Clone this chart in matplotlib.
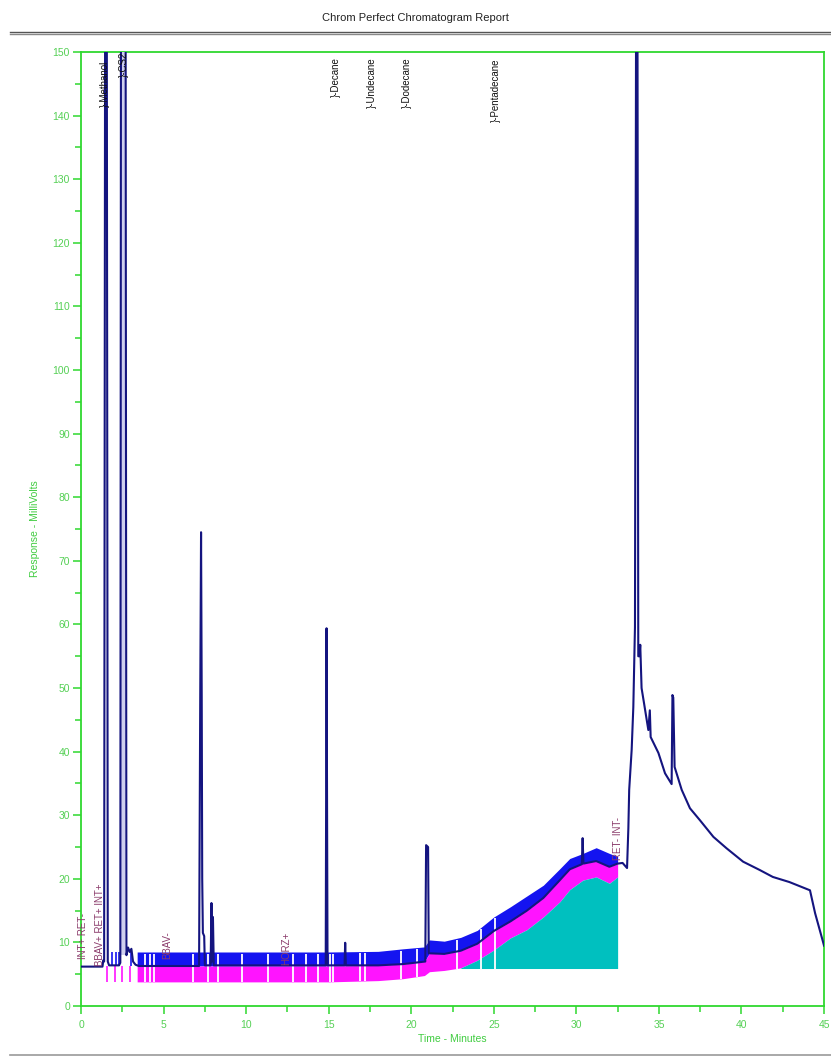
import matplotlib
matplotlib.use("Agg")
import matplotlib.pyplot as plt
import numpy as np
from matplotlib.lines import Line2D
from matplotlib.ticker import MultipleLocator

plt.rcParams['font.family'] = ['Liberation Sans', 'DejaVu Sans']

# chromatogram trace (minutes, millivolts); values above 150 run off the top
trace_t = [0, 1.30, 1.35, 1.40, 1.46, 1.56, 1.62, 1.70, 2.30, 2.38, 2.42, 2.70, 2.75,
           2.85, 2.95, 3.05, 3.15, 3.30, 3.50, 7.15, 7.22, 7.27, 7.31, 7.34, 7.38,
           7.46, 7.50, 7.85, 7.90, 7.94, 7.99, 8.04, 14.82, 14.87, 14.93, 15.96,
           16.00, 16.04, 18.0, 19.5, 20.85, 20.90, 21.02, 21.06, 22.0, 23.0, 24.0,
           25.0, 26.0, 27.0, 28.0, 29.0, 29.6, 30.33, 30.38, 30.43, 31.2, 32.0,
           32.5, 32.8, 33.07, 33.15, 33.20, 33.35, 33.45, 33.55, 33.62, 33.70,
           33.75, 33.82, 33.87, 33.95, 34.10, 34.36, 34.45, 34.50, 34.97, 35.37,
           35.77, 35.82, 35.87, 35.95, 36.38, 36.88, 37.49, 38.3, 39.1, 40.1, 41.1,
           41.9, 42.9, 44.15, 44.46, 44.96, 45.0]
trace_v = [6.2, 6.2, 7.2, 7.0, 160, 160, 7.0, 6.4, 6.4, 6.8, 160, 160, 8.0,
           9.2, 8.5, 9.0, 7.0, 6.5, 6.3, 6.3, 48.5, 74.5, 48.5, 20.0, 11.5,
           11.0, 6.4, 6.4, 16.2, 7.0, 14.0, 6.4, 6.4, 59.4, 6.4, 6.4,
           9.95, 6.4, 6.4, 6.6, 7.0, 25.3, 25.0, 8.3, 8.2, 8.7, 9.8,
           11.8, 13.3, 15.0, 17.0, 19.8, 21.5, 22.3, 26.4, 22.4, 22.8, 21.9,
           22.4, 22.5, 21.7, 28.0, 34.0, 40.3, 47.0, 59.6, 160, 160,
           55.0, 55.0, 56.8, 50.0, 47.6, 43.4, 46.5, 42.3, 39.8, 36.6,
           34.9, 48.9, 48.5, 37.6, 34.0, 31.1, 29.2, 26.6, 24.8, 22.7, 21.4,
           20.3, 19.5, 18.2, 14.6, 9.9, 9.5]

# noise envelopes
band_t = [3.4, 10, 15, 18, 19.5, 20.8, 21.1, 22, 23, 24, 25, 26, 27, 28, 29, 29.6,
          30.4, 31.2, 32, 32.5]
blue_top = [8.5, 8.5, 8.5, 8.6, 9.0, 9.3, 10.4, 10.2, 10.8, 11.9, 14.0, 15.6, 17.3,
            19.0, 21.6, 23.2, 24.0, 24.9, 24.0, 23.5]
blue_bot = [6.3, 6.3, 6.3, 6.4, 6.6, 7.0, 8.3, 8.2, 8.7, 9.8, 11.8, 13.3, 15.0,
            17.0, 19.8, 21.5, 22.4, 22.8, 21.9, 22.4]
mag_bot = [3.8, 3.8, 3.8, 4.0, 4.3, 4.8, 5.4, 5.6, 6.0, 7.2, 8.8, 10.7, 12.0,
           14.0, 16.4, 18.3, 19.8, 20.3, 19.3, 20.3]
area_start = 8          # index in band_t where the integrated area begins
area_base = 5.9

sparse_blue = [1.88, 2.12, 2.33, 3.05]
sparse_mag = [1.55, 2.05, 2.46, 2.95]
gap_times = [3.9, 4.2, 4.4, 6.8, 7.7, 8.3, 9.75, 11.3, 12.85, 13.65, 14.35, 15.1,
             15.25, 16.9, 17.2, 19.4, 20.35, 22.75, 24.25, 25.05]

# peak names (time, marker height)
peak_names = ['Methanol', 'CS2', 'Decane', 'Undecane', 'Dodecane', 'Pentadecane']
peak_times = [1.45, 2.62, 15.44, 17.6, 19.74, 25.13]
peak_marks = [141.4, 146.0, 143.0, 141.2, 141.2, 139.0]

# integration events
event_labels = ['INT+ RET-', 'BBAV+ RET+ INT+', 'BBAV-', 'HORZ+', 'RET- INT-']
event_times = [0.15, 1.15, 5.2, 12.45, 32.55]
event_y = [7.4, 6.3, 7.4, 6.5, 23.0]

green = '#2fd82f'
navy = '#14147f'

fig = plt.figure(figsize=(8.31, 10.58), dpi=100)
ax = fig.add_axes([0.0975, 0.0491, 0.8941, 0.9017])

# bands
ax.fill_between(band_t, blue_bot, blue_top, color='#1414f0', lw=0, zorder=2)
ax.fill_between(band_t, mag_bot, blue_bot, color='#ff14ff', lw=0, zorder=2)
ax.fill_between(band_t[area_start:], area_base, mag_bot[area_start:],
                color='#00c0bf', lw=0, zorder=2)
ax.vlines(sparse_blue, 6.3, 8.5, color='#1414f0', lw=1.2, zorder=2)
ax.vlines(sparse_mag, 3.8, 6.3, color='#ff14ff', lw=1.2, zorder=2)
gap_lo = [min(m, area_base) for m in np.interp(gap_times, band_t, mag_bot)]
gap_hi = np.interp(gap_times, band_t, blue_top) - 0.3
ax.vlines(gap_times, gap_lo, gap_hi, color='white', lw=1.3, zorder=3)

# wide off-scale peak interior
ax.fill_between([2.44, 2.68], 8, 150, color='#cfcfee', lw=0, zorder=3)

ax.plot(trace_t, trace_v, color=navy, lw=1.5, zorder=4)

for name, t, m in zip(peak_names, peak_times, peak_marks):
    ax.text(t, m, '}-' + name, rotation=90, ha='center', va='bottom',
            fontsize=7, color='#111111', zorder=5)

for lab, t, y in zip(event_labels, event_times, event_y):
    ax.text(t, y, lab, rotation=90, ha='center', va='bottom',
            fontsize=7, color='#8a3a6a', zorder=5)

ax.set_xlim(0, 45)
ax.set_ylim(0, 150)
ax.xaxis.set_major_locator(MultipleLocator(5))
ax.xaxis.set_minor_locator(MultipleLocator(2.5))
ax.yaxis.set_major_locator(MultipleLocator(10))
ax.yaxis.set_minor_locator(MultipleLocator(5))
for s in ax.spines.values():
    s.set_color(green)
    s.set_linewidth(1.3)
ax.tick_params(which='major', direction='out', length=6, width=1.1, color=green,
               labelcolor='#55d055', labelsize=7.5, pad=2)
ax.tick_params(which='minor', direction='out', length=4, width=1.1, color=green)
ax.tick_params(axis='x', pad=4)
ax.set_xlabel('Time - Minutes', color='#40cc40', fontsize=7.5, labelpad=3)
ax.set_ylabel('Response - MilliVolts', color='#40cc40', fontsize=7.5, labelpad=9)

fig.text(0.5, 0.983, 'Chrom Perfect Chromatogram Report', ha='center', va='center',
         fontsize=8, color='#222222')
fig.add_artist(Line2D([0.012, 1.0], [0.9695, 0.9695], color='#555555', lw=1.0,
                      transform=fig.transFigure))
fig.add_artist(Line2D([0.012, 1.0], [0.9675, 0.9675], color='#888888', lw=1.0,
                      transform=fig.transFigure))
fig.add_artist(Line2D([0.012, 1.0], [0.0025, 0.0025], color='#999999', lw=1.2,
                      transform=fig.transFigure))

fig.savefig('out.png', dpi=100)
